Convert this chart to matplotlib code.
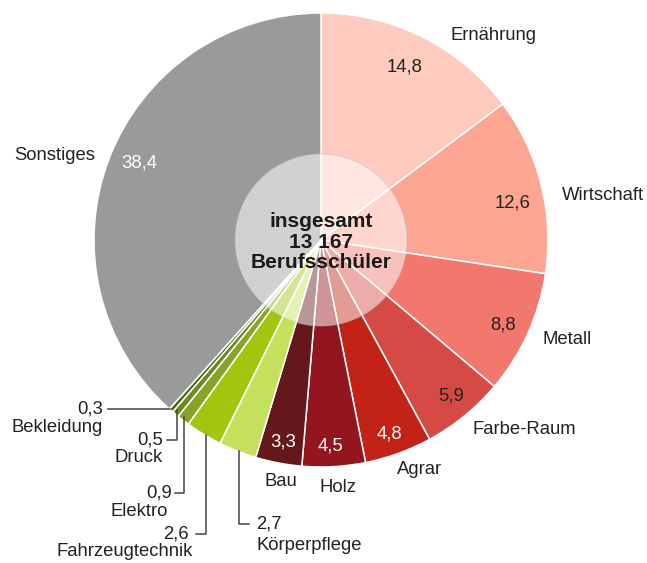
import matplotlib.pyplot as plt
from matplotlib.patches import Circle

plt.rcParams['font.family'] = ['Liberation Sans', 'DejaVu Sans']

# Anteile der Berufsschüler nach Berufsfeld (in %)
kategorien = ['Ernährung', 'Wirtschaft', 'Metall', 'Farbe-Raum', 'Agrar', 'Holz', 'Bau',
              'Körperpflege', 'Fahrzeugtechnik', 'Elektro', 'Druck', 'Bekleidung', 'Sonstiges']
werte = [14.8, 12.6, 8.8, 5.9, 4.8, 4.5, 3.3, 2.7, 2.6, 0.9, 0.5, 0.3, 38.4]
farben = ['#ffcbbe', '#fda593', '#f2776d', '#d54a44', '#c32216', '#93161f', '#65181b',
          '#c5e05c', '#a2c60e', '#86a42a', '#6c8a1e', '#4d6410', '#9a9a9a']
gesamt = '13 167'

H = 563
fig = plt.figure(figsize=(6.47, 5.63), dpi=100)
ax = fig.add_axes([0, 0, 1, 1])
ax.set_xlim(0, 647)
ax.set_ylim(0, H)
ax.axis('off')

cx, cy, r = 321, H - 240, 227
ax.pie(werte, colors=farben, startangle=90, counterclock=False, center=(cx, cy), radius=r,
       wedgeprops=dict(edgecolor='white', linewidth=1.1), frame=True)
ax.set_xlim(0, 647)
ax.set_ylim(0, H)
ax.axis('off')

ax.add_patch(Circle((cx, cy), 86, facecolor='white', alpha=0.55, edgecolor='#bbbbbb', lw=0.6, zorder=3))

def fmt(v):
    return f'{v:.1f}'.replace('.', ',')

fs = 13.3
dunkel = {'Agrar', 'Holz', 'Bau', 'Sonstiges'}

# Beschriftungen der großen Segmente (Pixelpositionen im Bild)
wert_pos = {'Ernährung': (405, 67), 'Wirtschaft': (513, 203), 'Metall': (503, 325),
            'Farbe-Raum': (451, 396), 'Agrar': (389, 434), 'Holz': (330, 446),
            'Bau': (283, 442), 'Sonstiges': (139, 163)}
name_pos = {'Ernährung': (493, 35), 'Wirtschaft': (603, 196), 'Metall': (567, 340),
            'Farbe-Raum': (524, 430), 'Agrar': (420, 470), 'Holz': (338, 488),
            'Bau': (281, 481), 'Sonstiges': (55, 156)}

for k, v in zip(kategorien, werte):
    if k in wert_pos:
        x, y = wert_pos[k]
        ax.text(x, H - y, fmt(v), ha='center', va='center', fontsize=fs,
                color='white' if k in dunkel else '#222222', zorder=4)
        x, y = name_pos[k]
        ax.text(x, H - y, k, ha='center', va='center', fontsize=fs, color='#222222', zorder=4)

# kleine Segmente mit Hinweislinien
lc = '#444444'
def linie(xs, ys):
    ax.plot(xs, [H - y for y in ys], color=lc, lw=1.1, zorder=4)

w = dict(zip(kategorien, werte))
linie([170, 108], [409, 409])
ax.text(103, H - 409, fmt(w['Bekleidung']), ha='right', va='center', fontsize=fs, color='#222222')
ax.text(103, H - 427, 'Bekleidung', ha='right', va='center', fontsize=fs, color='#222222')

linie([177, 177, 167], [410, 440, 440])
ax.text(163, H - 440, fmt(w['Druck']), ha='right', va='center', fontsize=fs, color='#222222')
ax.text(163, H - 457, 'Druck', ha='right', va='center', fontsize=fs, color='#222222')

linie([184, 184, 175], [417, 493, 493])
ax.text(172, H - 493, fmt(w['Elektro']), ha='right', va='center', fontsize=fs, color='#222222')
ax.text(168, H - 511, 'Elektro', ha='right', va='center', fontsize=fs, color='#222222')

linie([206, 206, 196], [435, 534, 534])
ax.text(189, H - 534, fmt(w['Fahrzeugtechnik']), ha='right', va='center', fontsize=fs, color='#222222')
ax.text(193, H - 552, 'Fahrzeugtechnik', ha='right', va='center', fontsize=fs, color='#222222')

linie([239, 239, 249], [451, 524, 524])
ax.text(256, H - 524, fmt(w['Körperpflege']), ha='left', va='center', fontsize=fs, color='#222222')
ax.text(256, H - 546, 'Körperpflege', ha='left', va='center', fontsize=fs, color='#222222')

ax.text(cx, H - 242, 'insgesamt\n' + gesamt + '\nBerufsschüler', ha='center', va='center',
        fontsize=15, fontweight='bold', color='#1a1a1a', linespacing=1.1, zorder=5)

fig.savefig('out.png', dpi=100)
